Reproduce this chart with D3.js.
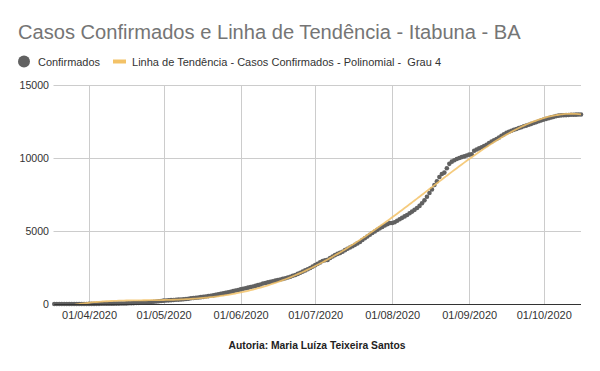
<!DOCTYPE html>
<html><head><meta charset="utf-8">
<script src="https://cdn.jsdelivr.net/npm/d3@7"></script>
<style>body{margin:0;background:#fff} svg{display:block;font-family:"Liberation Sans",Arial,sans-serif}</style>
</head><body><svg id="c" width="600" height="371"></svg>
<script>
// ---- data ----
const startDate = "2020-03-18"; // first day of the daily series
const confirmados = [
  // Mar 18-31
  0,0,0,0,0,1,1,1,2,2,3,3,4,5,
  // Apr
  6,7,8,9,10,12,14,16,18,20,23,26,29,33,37,42,48,55,62,70,80,90,100,112,125,140,155,170,190,210,
  // May
  230,240,250,262,275,288,300,312,325,340,362,390,410,430,450,470,490,515,540,560,590,625,670,700,730,760,800,840,880,920,960,
  // Jun
  1000,1040,1080,1120,1160,1200,1240,1290,1340,1400,1440,1480,1520,1560,1600,1640,1680,1720,1760,1810,1870,1930,1990,2060,2140,2220,2300,2380,2470,2560,
  // Jul
  2660,2750,2850,2950,3000,3020,3150,3250,3350,3430,3500,3580,3690,3780,3870,3960,4050,4150,4250,4380,4500,4620,4740,4860,4970,5080,5180,5280,5380,5460,5540,
  // Aug
  5550,5600,5700,5800,5900,6000,6100,6220,6330,6450,6580,6720,6900,7100,7350,7600,7850,8150,8400,8700,8900,9000,9300,9600,9750,9850,9930,10000,10060,10110,10170,
  // Sep
  10230,10260,10500,10580,10660,10740,10820,10900,11030,11120,11220,11300,11400,11520,11620,11720,11800,11870,11930,11990,12050,12110,12170,12220,12280,12340,12400,12460,12520,12580,
  // Oct 1-16
  12630,12680,12730,12780,12820,12870,12900,12920,12930,12940,12950,12960,12965,12970,12975,12980
];
const yTicks = [0, 5000, 10000, 15000];
const xTickDates = ["2020-04-01","2020-05-01","2020-06-01","2020-07-01","2020-08-01","2020-09-01","2020-10-01"];
const titleText = "Casos Confirmados e Linha de Tendência - Itabuna - BA";
const legendLabels = ["Confirmados", "Linha de Tendência - Casos Confirmados - Polinomial -  Grau 4"];
const footerText = "Autoria: Maria Luíza Teixeira Santos";
const polyDegree = 4;

// ---- build ----
const parse = d3.timeParse("%Y-%m-%d");
const fmt = d3.timeFormat("%d/%m/%Y");
const d0 = parse(startDate);
const points = confirmados.map((v, i) => ({date: d3.timeDay.offset(d0, i), value: v, i}));

const svg = d3.select("#c");
const dotColor = "#616161", trendColor = "#f3c267";

const x = d3.scaleTime().domain(d3.extent(points, d => d.date)).range([54.3, 581]);
const y = d3.scaleLinear().domain([0, 15000]).range([304, 85]);

svg.append("defs").append("clipPath").attr("id", "plot")
  .append("rect").attr("x", 50).attr("y", 80).attr("width", 535).attr("height", 224);

// grid
svg.append("g").selectAll("line").data(yTicks.filter(t => t > 0)).join("line")
  .attr("x1", 53.5).attr("x2", 581).attr("y1", d => Math.round(y(d)) + 0.5).attr("y2", d => Math.round(y(d)) + 0.5)
  .attr("stroke", "#cccccc").attr("stroke-width", 1);
svg.append("g").selectAll("line").data(xTickDates.map(parse)).join("line")
  .attr("x1", d => Math.round(x(d)) + 0.5).attr("x2", d => Math.round(x(d)) + 0.5)
  .attr("y1", 85).attr("y2", 304)
  .attr("stroke", "#cccccc").attr("stroke-width", 1);

// y axis labels
const yAxis = d3.axisLeft(y).tickValues(yTicks).tickSize(0).tickPadding(0).tickFormat(d3.format("d"));
const yg = svg.append("g").attr("transform", "translate(49,0)").call(yAxis);
yg.select(".domain").remove();
yg.selectAll("text").attr("font-size", 10.6).attr("fill", "#333").attr("font-family", "Liberation Sans, Arial, sans-serif");

// x axis
const xAxis = d3.axisBottom(x).tickValues(xTickDates.map(parse)).tickSize(0).tickPadding(0).tickFormat(fmt);
const xg = svg.append("g").attr("transform", "translate(0,304)").call(xAxis);
xg.select(".domain").remove();
xg.selectAll("text").attr("dy", null).attr("y", 14.5).attr("font-size", 11).attr("fill", "#333")
  .attr("font-family", "Liberation Sans, Arial, sans-serif");

// polynomial trend (least squares, degree 4) computed from the data
function polyfit(xs, ys, deg) {
  const n = deg + 1;
  const A = Array.from({length: n}, () => new Array(n + 1).fill(0));
  for (let k = 0; k < xs.length; k++) {
    const pw = [1]; for (let j = 1; j <= 2 * deg; j++) pw.push(pw[j - 1] * xs[k]);
    for (let r = 0; r < n; r++) {
      for (let c = 0; c < n; c++) A[r][c] += pw[r + c];
      A[r][n] += ys[k] * pw[r];
    }
  }
  for (let c = 0; c < n; c++) {
    let p = c; for (let r = c + 1; r < n; r++) if (Math.abs(A[r][c]) > Math.abs(A[p][c])) p = r;
    [A[c], A[p]] = [A[p], A[c]];
    for (let r = 0; r < n; r++) if (r !== c) {
      const f = A[r][c] / A[c][c];
      for (let k = c; k <= n; k++) A[r][k] -= f * A[c][k];
    }
  }
  return A.map((row, i) => row[n] / row[i]);
}
const N = points.length - 1;
const coef = polyfit(points.map(p => p.i / N), points.map(p => p.value), polyDegree);
const trend = points.map(p => ({date: p.date, value: coef.reduce((s, c, j) => s + c * Math.pow(p.i / N, j), 0)}));

// dots
svg.append("g").selectAll("circle").data(points).join("circle")
  .attr("cx", d => x(d.date)).attr("cy", d => y(d.value)).attr("r", 2.3).attr("fill", dotColor);

svg.append("path").datum(trend).attr("clip-path", "url(#plot)")
  .attr("d", d3.line().x(d => x(d.date)).y(d => y(d.value)).curve(d3.curveMonotoneX))
  .attr("fill", "none").attr("stroke", trendColor).attr("stroke-width", 1.8).attr("opacity", 0.85);

svg.append("line").attr("x1", 54.3).attr("x2", 581).attr("y1", 304.5).attr("y2", 304.5)
  .attr("stroke", "#333").attr("stroke-width", 1.2);

// text helper that fits a target width
function fitText(sel, w) {
  const fs = +sel.attr("font-size");
  const cur = sel.node().getComputedTextLength();
  sel.attr("font-size", (fs * w / cur).toFixed(2));
  return sel;
}

// title
fitText(svg.append("text").attr("x", 18).attr("y", 39).attr("font-size", 19).attr("fill", "#757575").text(titleText), 503);

// legend
svg.append("circle").attr("cx", 24).attr("cy", 61.5).attr("r", 6).attr("fill", dotColor);
fitText(svg.append("text").attr("x", 38).attr("y", 65.5).attr("font-size", 11).attr("fill", "#333").text(legendLabels[0]), 62);
svg.append("line").attr("x1", 113).attr("x2", 126).attr("y1", 61.5).attr("y2", 61.5)
  .attr("stroke", trendColor).attr("stroke-width", 4);
fitText(svg.append("text").attr("x", 132).attr("y", 65.5).attr("font-size", 11).attr("fill", "#333")
  .style("white-space", "pre").text(legendLabels[1]), 309);

// footer
fitText(svg.append("text").attr("x", 317).attr("y", 349).attr("text-anchor", "middle").attr("font-size", 11)
  .attr("font-weight", "bold").attr("fill", "#222").text(footerText), 177);
</script></body></html>
